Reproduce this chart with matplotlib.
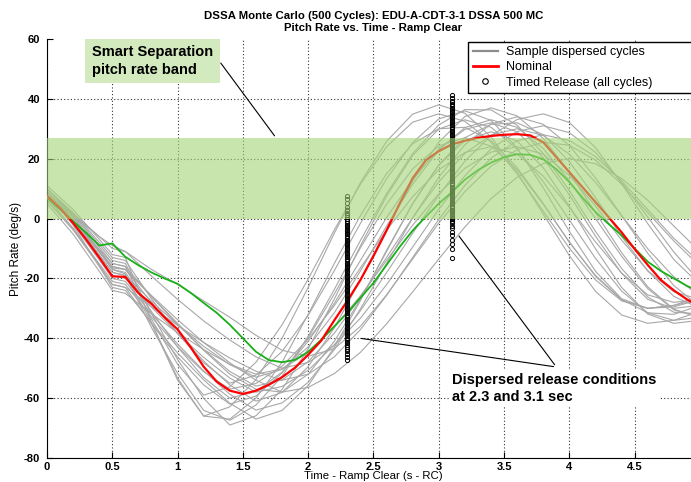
import matplotlib
matplotlib.use("Agg")
import matplotlib.pyplot as plt
from matplotlib.lines import Line2D

plt.rcParams['font.family'] = ['Liberation Sans Narrow', 'Liberation Sans', 'DejaVu Sans']

# sample times for the dispersed cycles (s)
t_gray = [0, 0.2, 0.4, 0.5, 0.6, 0.8, 1.0, 1.2, 1.4, 1.6, 1.8, 2.0, 2.2, 2.4,
          2.6, 2.8, 3.0, 3.2, 3.4, 3.6, 3.8, 4.0, 4.2, 4.4, 4.6, 4.8, 5.0]

# pitch rate of the sample dispersed cycles (deg/s)
cyc01 = [10, 1.6, -8.7, -14, -15, -31.8, -47.1, -60.1, -69, -65.9, -57.1, -43.5, -26.9, -9.1, 7.5, 21.1, 29.9, 33, 30.5, 23.2, 12.3, -0.5, -13.3, -24.2, -31.5, -34, -33]
cyc02 = [9, -0.5, -12.1, -18, -19, -36.4, -51.7, -64.1, -67.4, -62.3, -52.7, -39.3, -23.7, -7.3, 8.3, 21.7, 31.3, 36.4, 36.3, 31.2, 21.7, 9.3, -4.3, -16.7, -26.2, -31.3, -31.8]
cyc03 = [11, 3, -6.9, -12, -13, -34.7, -53.3, -66, -62.9, -53.8, -40, -23, -4.9, 12, 25.8, 34.9, 38, 35.2, 27.3, 15.4, 1.5, -12.4, -24.3, -32.2, -35, -34, -31]
cyc04 = [8, -1.8, -13.8, -20, -21, -31.8, -41.9, -50.9, -58.7, -64, -61.6, -54.7, -43.8, -30.2, -15, 0.2, 13.8, 24.7, 31.6, 34, 31.5, 24.4, 13.6, 1, -11.6, -22.4, -29.5]
cyc05 = [7, -3.2, -15.6, -22, -23, -35.2, -46.2, -55.6, -62, -59.3, -51.6, -39.8, -25.2, -9.8, 4.8, 16.6, 24.3, 27, 24.2, 16.3, 4.8, -7.8, -19.3, -27.2, -30, -29, -26]
cyc06 = [9, 0.3, -10.5, -16, -17, -28.1, -38.3, -47.6, -55.6, -61, -58.1, -49.5, -36.5, -20.5, -3.5, 12.5, 25.5, 34.1, 37, 34.3, 26.8, 15.4, 2, -11.4, -22.8, -30.3, -33]
cyc07 = [10, 0.6, -11.1, -17, -18, -31.1, -42.9, -53.1, -60, -57.8, -51.3, -41, -28.3, -14, 0.3, 13, 23.3, 29.8, 32, 29, 20.3, 7.9, -5.9, -18.3, -27, -30, -29]
cyc08 = [8, -1.5, -13.1, -19, -20, -29.6, -38.4, -46.4, -53.3, -58, -56.1, -50.7, -42.2, -30.8, -18.1, -4.9, 7.8, 19.2, 27.7, 33.1, 35, 32.1, 23.7, 11.7, -1.7, -13.7, -22.1]
cyc09 = [6, -3.5, -15.1, -21, -22, -32.9, -42.8, -51.2, -57, -55.1, -49.3, -40.3, -29.1, -16.5, -3.9, 7.3, 16.3, 22.1, 24, 21.5, 14.2, 3.8, -7.8, -18.2, -25.5, -28, -27]
cyc10 = [7, -0.7, -10.2, -15, -16, -26.1, -35.4, -43.8, -51.1, -56, -53.9, -47.8, -38.3, -26.3, -13, 0.3, 12.3, 21.8, 27.9, 30, 27.8, 21.5, 12.1, 1, -10.1, -19.5, -25.8]
cyc11 = [10, 2, -7.9, -13, -14, -26.8, -38.4, -48.2, -55, -52.3, -44.4, -32.3, -17.4, -1.6, 13.3, 25.4, 33.3, 36, 32.8, 23.6, 10.3, -4.3, -17.6, -26.8, -30, -29.5, -27]
cyc12 = [6, -3.8, -15.8, -22, -23, -29.5, -35.7, -41.4, -46.6, -51, -54, -52, -46.2, -37.1, -25.7, -13, -0.3, 11.1, 20.2, 26, 28, 26.1, 20.7, 12.6, 3, -6.6, -14.7]
cyc13 = [9, -0.5, -12.1, -18, -19, -27.6, -35.5, -42.7, -48.8, -53, -50.4, -42.9, -31.5, -17.5, -2.5, 11.5, 22.9, 30.4, 33, 30.5, 23.4, 12.6, 0, -12.6, -23.4, -30.5, -33]
cyc14 = [5, -5.2, -17.6, -24, -25, -31.8, -38.1, -43.8, -48.7, -52, -50.2, -44.8, -36.3, -25.8, -14, -2.2, 8.3, 16.8, 22.2, 24, 21.5, 14.4, 4.2, -7.2, -17.4, -24.5, -27]
cyc15 = [8, 1.7, -6, -10, -11, -19.2, -27, -34.2, -40.6, -46.2, -50, -48.1, -42.3, -33.3, -22.1, -9.5, 3.1, 14.3, 23.3, 29.1, 31, 28.7, 22.1, 12.2, 0.5, -11.2, -21.1]
cyc16 = [7, -1.1, -10.9, -16, -17, -25.7, -33.8, -41.4, -48.2, -54, -58, -56.4, -51.8, -44.7, -35.2, -24.5, -13.5, -2.8, 6.7, 13.8, 18.4, 20, 18.3, 13.4, 6.1, -2.5, -11.1]
cyc17 = [9, -2.2, -16, -23, -24, -34.8, -44.9, -53.9, -61.7, -67, -64.1, -55.8, -43, -27.4, -10.6, 5, 17.8, 26.1, 29, 25.9, 17, 4.1, -10.1, -23, -31.9, -35, -34]
cyc18 = [10, 1.3, -9.5, -15, -16, -33.6, -48.7, -59, -56.2, -48, -35.5, -20.2, -3.8, 11.5, 24, 32.2, 35, 32.5, 25.5, 14.9, 2.5, -9.9, -20.5, -27.5, -30, -29, -27]
cyc19 = [8, 1, -6, -9, -11, -17, -22, -27.5, -33, -39, -44, -46, -43.5, -36, -25.5, -13.5, -1.5, 9, 17.5, 23, 25.5, 24.5, 19.5, 11.5, 2, -7.5, -16]
cyc20 = [10, 1, -11, -17, -18.5, -35, -54, -66, -67, -60, -48, -32, -15, 1, 15, 25, 30, 30.5, 26, 17, 5, -8, -19, -27, -31.5, -32, -29]
cyc21 = [9, -0.5, -11, -16.5, -17, -26, -35, -44, -52, -57, -58, -52, -41, -27, -11, 5, 18, 27, 31.5, 32, 28, 19, 7, -6, -17.5, -26, -30]
gray_cycles = [cyc01, cyc02, cyc03, cyc04, cyc05, cyc06, cyc07, cyc08, cyc09, cyc10, cyc11,
               cyc12, cyc13, cyc14, cyc15, cyc16, cyc17, cyc18, cyc19, cyc20, cyc21]

# nominal (red) and the green reference run
t_nom = [0, 0.1, 0.2, 0.3, 0.4, 0.5, 0.6, 0.7, 0.8, 0.9, 1.0, 1.1, 1.2, 1.3, 1.4,
         1.5, 1.6, 1.7, 1.8, 1.9, 2.0, 2.1, 2.2, 2.3, 2.4, 2.5, 2.6, 2.7, 2.8,
         2.9, 3.0, 3.1, 3.2, 3.3, 3.4, 3.5, 3.6, 3.7, 3.8, 3.9, 4.0, 4.1, 4.2,
         4.3, 4.4, 4.5, 4.6, 4.7, 4.8, 4.9, 5.0]
nominal = [7.5, 3.5, -1.5, -7, -13, -19.3, -19.5, -24.9, -28.5, -33, -37, -43, -49.5,
           -54.5, -57.5, -58.6, -57.5, -55.5, -53, -49.8, -45.5, -40.8, -34, -27.5,
           -20.5, -12.5, -4, 5, 13.5, 19.5, 22.5, 24.8, 26, 27, 27.6, 28, 28.2, 27.8,
           25.5, 20.5, 15.5, 10.5, 5.5, 0.5, -4.6, -10.2, -15.5, -20.5, -24, -27, -29.5]
green_run = [6.9, 3, -0.9, -4.8, -9.0, -8.3, -12.8, -15.6, -18, -20, -21.8, -24.8, -28.2,
             -31.5, -35.5, -40, -44.5, -47.3, -48, -47.2, -44.5, -40.5, -36, -31.5,
             -26.5, -21.5, -15.5, -9.5, -4, 0.6, 5, 8.8, 13, 16.2, 18.7, 20.5, 21.5,
             21.3, 19.8, 16.5, 12.2, 7, 2.2, -1.8, -5.6, -10, -14.4, -17.5, -20, -22.5, -24.5]

# timed release points (all cycles) at 2.3 s and 3.1 s
t_rel_a = 2.3
t_rel_b = 3.1
rel_a = [7.6, 6.4, 5.1, 3.9, 2.8, 1.9, 1.1, 0.4, -0.3, -0.9, -1.5, -2.0, -2.6, -3.1, -3.7,
         -4.2, -4.8, -5.3, -5.9, -6.4, -7.0, -7.5, -8.1, -8.6, -9.2, -9.7, -10.3, -10.8,
         -11.4, -11.9, -12.5, -13.0, -13.6, -14.1, -14.7, -15.2, -15.8, -16.3, -16.9,
         -17.4, -18.0, -18.5, -19.1, -19.6, -20.2, -20.7, -21.3, -21.8, -22.4, -22.9,
         -23.5, -24.0, -24.6, -25.1, -25.7, -26.2, -26.8, -27.3, -27.9, -28.4, -29.0,
         -29.5, -30.1, -30.6, -31.2, -31.7, -32.3, -32.8, -33.4, -33.9, -34.5, -35.0,
         -35.6, -36.1, -36.7, -37.2, -37.8, -38.3, -38.9, -39.4, -40.0, -40.5, -41.1,
         -41.6, -42.2, -42.8, -43.5, -44.3, -45.2, -46.1, -47.1]
rel_b = [41.3, 40.2, 39.4, 38.8, 38.2, 37.7, 37.1, 36.6, 36.0, 35.5, 34.9, 34.4, 33.8,
         33.3, 32.7, 32.2, 31.6, 31.1, 30.5, 30.0, 29.4, 28.9, 28.3, 27.8, 27.2, 26.7,
         26.1, 25.6, 25.0, 24.5, 23.9, 23.4, 22.8, 22.3, 21.7, 21.2, 20.6, 20.1, 19.5,
         19.0, 18.4, 17.9, 17.3, 16.8, 16.2, 15.7, 15.1, 14.6, 14.0, 13.5, 12.9, 12.4,
         11.8, 11.3, 10.7, 10.2, 9.6, 9.1, 8.5, 8.0, 7.4, 6.9, 6.3, 5.8, 5.2, 4.7, 4.1,
         3.6, 3.0, 2.5, 1.9, 1.4, 0.8, 0.3, -0.3, -0.9, -1.6, -2.4, -3.3, -4.4, -5.6,
         -7.0, -8.5, -10.3, -13.3]

band_lo = 0
band_hi = 27

x_ticks = [0, 0.5, 1, 1.5, 2, 2.5, 3, 3.5, 4, 4.5]
x_labels = ['0', '0.5', '1', '1.5', '2', '2.5', '3', '3.5', '4', '4.5']
y_ticks = [-80, -60, -40, -20, 0, 20, 40, 60]

fig = plt.figure(figsize=(6.91, 4.82), dpi=100)
ax = fig.add_axes([0.068, 0.0498, 0.945, 0.8693])

for cyc in gray_cycles:
    ax.plot(t_gray, cyc, color='#a8a8a8', lw=0.8, zorder=2)
ax.plot(t_nom, green_run, color='#18b018', lw=1.3, zorder=3)
ax.plot(t_nom, nominal, color='#ff0000', lw=1.6, zorder=4)
ax.plot([t_rel_a] * len(rel_a), rel_a, 'o', ms=3, mfc='none', mec='black', mew=0.7, zorder=5)
ax.plot([t_rel_b] * len(rel_b), rel_b, 'o', ms=3, mfc='none', mec='black', mew=0.7, zorder=5)

ax.axhspan(band_lo, band_hi, facecolor=(165/255, 212/255, 120/255), alpha=0.6, lw=0, zorder=6)

ax.set_xlim(0, 5)
ax.set_ylim(-80, 60)
ax.set_xticks(x_ticks)
ax.set_xticklabels(x_labels, fontsize=8, fontweight='bold')
ax.set_yticks(y_ticks)
ax.set_yticklabels([str(v) for v in y_ticks], fontsize=8, fontweight='bold')
ax.tick_params(direction='in', length=4, width=0.8)
ax.tick_params(axis='x', pad=3)
ax.tick_params(axis='y', pad=5)

ax.grid(True, color='#333333', linestyle=(0, (1, 2)), lw=0.8)
ax.set_axisbelow(True)
ax.get_ygridlines()[-1].set_visible(False)
for s in ['top', 'right']:
    ax.spines[s].set_visible(False)

ax.set_title('DSSA Monte Carlo (500 Cycles): EDU-A-CDT-3-1 DSSA 500 MC\nPitch Rate vs. Time - Ramp Clear',
             fontsize=8.2, fontweight='bold', pad=6)
ax.set_xlabel('Time - Ramp Clear (s - RC)', fontsize=8.2, labelpad=-1)
ax.set_ylabel('Pitch Rate (deg/s)', fontsize=8.5, labelpad=1)

# callouts
ax.text(0.069, 0.985, 'Smart Separation\npitch rate band', transform=ax.transAxes,
        fontsize=10.5, fontweight='bold', family=['Liberation Sans', 'DejaVu Sans'],
        ha='left', va='top', linespacing=1.3, zorder=8,
        bbox=dict(boxstyle='square,pad=0.45', fc='#d3eabf', ec='none'))
ax.annotate('', xy=(1.755, 26.9), xytext=(1.318, 52.7),
            arrowprops=dict(arrowstyle='-', color='black', lw=0.8), zorder=8)

ax.text(3.103, -51.5, 'Dispersed release conditions\nat 2.3 and 3.1 sec',
        fontsize=10.5, fontweight='bold', family=['Liberation Sans', 'DejaVu Sans'],
        ha='left', va='top', linespacing=1.3, zorder=8,
        bbox=dict(boxstyle='square,pad=0.2', fc='white', ec='none'))
ax.annotate('', xy=(2.383, -39.9), xytext=(3.90, -49.6),
            arrowprops=dict(arrowstyle='-', color='black', lw=0.8), zorder=8)
ax.annotate('', xy=(3.142, -5.1), xytext=(3.90, -49.6),
            arrowprops=dict(arrowstyle='-', color='black', lw=0.8), zorder=8)

handles = [Line2D([], [], color='#8c8c8c', lw=1.6),
           Line2D([], [], color='#ff0000', lw=2),
           Line2D([], [], ls='none', marker='o', ms=4, mfc='none', mec='black', mew=0.8)]
labels = ['Sample dispersed cycles', 'Nominal', 'Timed Release (all cycles)']
leg = ax.legend(handles, labels, loc='upper left', bbox_to_anchor=(0.645, 0.0, 0.36, 0.993),
                mode='expand', borderaxespad=0, fancybox=False, framealpha=1,
                edgecolor='black', handlelength=2.0, handletextpad=0.7, labelspacing=0.25,
                borderpad=0.35, prop={'family': ['Liberation Sans', 'DejaVu Sans'], 'size': 9})
leg.get_frame().set_linewidth(1.0)
leg.set_zorder(10)

fig.savefig('out.png', dpi=100)
